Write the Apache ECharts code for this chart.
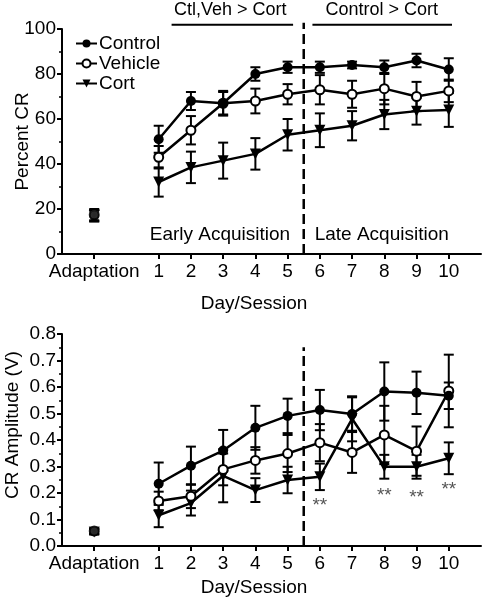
<!DOCTYPE html>
<html>
<head>
<meta charset="utf-8">
<script src="https://cdn.jsdelivr.net/npm/echarts@6/dist/echarts.min.js"></script>
<style>
html,body{margin:0;padding:0;background:#fff;}
#chart{width:483px;height:599px;}
</style>
</head>
<body>
<div id="chart"></div>
<script>
// ---------- DATA ----------
const days = [1, 2, 3, 4, 5, 6, 7, 8, 9, 10];
const adaptationX = -1;
const tickValues = [-1, 1, 2, 3, 4, 5, 6, 7, 8, 9, 10];

// Percent CR (top panel)
const ctlPct = [51, 68, 67, 80, 83, 83, 84, 83, 86, 82];
const ctlPctErr = [6, 4, 5, 3, 2.5, 2.5, 1.5, 3, 3, 5];
const vehPct = [43, 55, 67, 68, 71, 73, 71, 73.5, 70, 72.5];
const vehPctErr = [5, 6.3, 5.5, 5.5, 4.5, 6.5, 6, 7, 6.5, 5];
const cortPct = [32, 38.5, 41.5, 44.5, 53, 55, 57, 62, 63.5, 64];
const cortPctErr = [6.5, 7, 8, 7, 7, 7.5, 6.5, 6.5, 6, 7.5];
const adaptPct = [17, 17.5, 17];
const adaptPctErr = [2.5, 2.5, 2.5];

// CR Amplitude (bottom panel)
const ctlAmp = [0.235, 0.303, 0.36, 0.446, 0.491, 0.513, 0.498, 0.583, 0.578, 0.567];
const ctlAmpErr = [0.08, 0.072, 0.078, 0.083, 0.065, 0.076, 0.063, 0.11, 0.08, 0.05];
const vehAmp = [0.17, 0.188, 0.289, 0.323, 0.349, 0.39, 0.353, 0.419, 0.358, 0.585];
const vehAmpErr = [0.035, 0.045, 0.06, 0.05, 0.07, 0.07, 0.077, 0.11, 0.093, 0.137];
const cortAmp = [0.116, 0.162, 0.265, 0.211, 0.249, 0.261, 0.48, 0.299, 0.299, 0.331];
const cortAmpErr = [0.045, 0.047, 0.1, 0.045, 0.05, 0.05, 0.085, 0.045, 0.045, 0.06];
const adaptAmp = [0.055, 0.057, 0.053];
const adaptAmpErr = [0.01, 0.01, 0.01];

// Annotations
const phaseSplitX = 5.5;
const bracketTexts = ['Ctl,Veh > Cort', 'Control > Cort'];
const bracketFrom = [1.4, 5.77];
const bracketTo = [5.17, 10.1];
const bracketTextX = [3.22, 7.92];
const phaseTexts = ['Early Acquisition', 'Late Acquisition'];
const phaseTextX = [2.9, 7.92];
const starDays = [6, 8, 9, 10];
const starY = [0.15, 0.19, 0.183, 0.213];

// ---------- HELPERS ----------
const FONT = '"Liberation Sans", Arial, sans-serif';
const names = ['Control', 'Vehicle', 'Cort'];
const symbols = ['circle', 'circle', 'triangle'];
const rotates = [0, 0, 180];
const sizes = [10, 9, 11];
const fills = ['#000', '#fff', '#000'];

function errRender(params, api) {
  const x = api.value(0), lo = api.value(1), hi = api.value(2);
  const p1 = api.coord([x, lo]), p2 = api.coord([x, hi]);
  const w = 5;
  const st = { stroke: '#000', lineWidth: 2 };
  return { type: 'group', children: [
    { type: 'line', shape: { x1: p1[0], y1: p1[1], x2: p2[0], y2: p2[1] }, style: st },
    { type: 'line', shape: { x1: p1[0] - w, y1: p1[1], x2: p1[0] + w, y2: p1[1] }, style: st },
    { type: 'line', shape: { x1: p2[0] - w, y1: p2[1], x2: p2[0] + w, y2: p2[1] }, style: st }
  ]};
}

function lineSeries(i, vals, gridIdx) {
  return {
    type: 'line', name: names[i], xAxisIndex: gridIdx, yAxisIndex: gridIdx,
    data: days.map((d, k) => [d, vals[k]]),
    symbol: symbols[i], symbolRotate: rotates[i], symbolSize: sizes[i],
    showAllSymbol: true,
    lineStyle: { color: '#000', width: 2.5 },
    itemStyle: { color: fills[i], borderColor: '#000', borderWidth: i === 1 ? 2 : 0, opacity: 1 },
    z: 5, silent: true
  };
}
function adaptSeries(i, v, gridIdx) {
  return {
    type: 'scatter', name: names[i] + ' adaptation', xAxisIndex: gridIdx, yAxisIndex: gridIdx,
    data: [[adaptationX, v]],
    symbol: symbols[i], symbolRotate: rotates[i], symbolSize: sizes[i],
    itemStyle: { color: fills[i], borderColor: '#000', borderWidth: i === 1 ? 2 : 0 },
    z: 5 + (2 - i) * 0.1, silent: true
  };
}
function errSeries(vals, errs, gridIdx, adaptV, adaptE) {
  const data = days.map((d, k) => [d, vals[k] - errs[k], vals[k] + errs[k]]);
  data.push([adaptationX, adaptV - adaptE, adaptV + adaptE]);
  return {
    type: 'custom', xAxisIndex: gridIdx, yAxisIndex: gridIdx,
    renderItem: errRender, data: data, encode: { x: 0, y: [1, 2] }, z: 3, silent: true
  };
}
function dashSeries(gridIdx, yTop) {
  return {
    type: 'custom', xAxisIndex: gridIdx, yAxisIndex: gridIdx, silent: true, z: 2,
    data: [[phaseSplitX, 0, yTop]], encode: { x: 0, y: [1, 2] },
    renderItem: function (params, api) {
      const a = api.coord([api.value(0), api.value(1)]);
      const b = api.coord([api.value(0), api.value(2)]);
      return { type: 'line', shape: { x1: a[0], y1: a[1], x2: b[0], y2: b[1] },
        style: { stroke: '#000', lineWidth: 2.5, lineDash: [10, 5] } };
    }
  };
}
function textSeries(gridIdx, xs, ys, texts, fontSize, color) {
  return {
    type: 'custom', xAxisIndex: gridIdx, yAxisIndex: gridIdx, silent: true, z: 6,
    data: xs.map((x, k) => [x, ys[k]]), encode: { x: 0, y: 1 },
    renderItem: function (params, api) {
      const p = api.coord([api.value(0), api.value(1)]);
      return { type: 'text', style: { text: texts[params.dataIndex], x: p[0], y: p[1],
        textAlign: 'center', textVerticalAlign: 'middle', fill: color,
        fontSize: fontSize, fontFamily: FONT } };
    }
  };
}
function bracketSeries(gridIdx, yLine) {
  return {
    type: 'custom', xAxisIndex: gridIdx, yAxisIndex: gridIdx, silent: true, z: 6,
    data: bracketFrom.map((x, k) => [x, bracketTo[k], yLine]), encode: { x: [0, 1], y: 2 },
    renderItem: function (params, api) {
      const a = api.coord([api.value(0), api.value(2)]);
      const b = api.coord([api.value(1), api.value(2)]);
      return { type: 'line', shape: { x1: a[0], y1: a[1], x2: b[0], y2: b[1] },
        style: { stroke: '#000', lineWidth: 2 } };
    }
  };
}

function xAxisCfg(gridIdx) {
  return {
    type: 'value', gridIndex: gridIdx, min: -2, max: 11, interval: 1,
    name: 'Day/Session', nameLocation: 'middle', nameGap: gridIdx === 0 ? 40 : 32,
    nameMoveOverlap: false,
    nameTextStyle: { color: '#000', fontSize: 19, fontFamily: FONT, padding: [0, 35, 0, 0] },
    axisLine: { show: true, onZero: false, lineStyle: { color: '#000', width: 2 } },
    axisTick: { show: true, customValues: tickValues, length: 5, inside: false, lineStyle: { color: '#000', width: 2 } },
    axisLabel: { show: true, customValues: tickValues, margin: 8, color: '#000', fontSize: 19, fontFamily: FONT,
      formatter: v => v === -1 ? 'Adaptation' : String(v) },
    splitLine: { show: false }, minorTick: { show: false }
  };
}
function yAxisCfg(gridIdx) {
  const top = gridIdx === 0;
  return {
    type: 'value', gridIndex: gridIdx, min: 0, max: top ? 100 : 0.8, interval: top ? 20 : 0.1,
    name: top ? 'Percent CR' : 'CR Amplitude (V)', nameLocation: 'middle', nameGap: top ? 30 : 40,
    nameMoveOverlap: false,
    nameTextStyle: { color: '#000', fontSize: 19, fontFamily: FONT, padding: top ? [0, 0, 0, 0] : [0, 0, 0, 30] },
    axisLine: { show: true, onZero: false, lineStyle: { color: '#000', width: 2 } },
    axisTick: { show: true, length: 5, lineStyle: { color: '#000', width: 2 } },
    minorTick: { show: true, splitNumber: 2, length: 3, lineStyle: { color: '#000', width: 1.5 } },
    axisLabel: { color: '#000', fontSize: 19, fontFamily: FONT, margin: 6,
      formatter: v => top ? String(Math.round(v)) : v.toFixed(1) },
    splitLine: { show: false }
  };
}

const series = [];
const topVals = [ctlPct, vehPct, cortPct], topErrs = [ctlPctErr, vehPctErr, cortPctErr];
const botVals = [ctlAmp, vehAmp, cortAmp], botErrs = [ctlAmpErr, vehAmpErr, cortAmpErr];
for (let i = 0; i < 3; i++) {
  series.push(errSeries(topVals[i], topErrs[i], 0, adaptPct[i], adaptPctErr[i]));
  series.push(errSeries(botVals[i], botErrs[i], 1, adaptAmp[i], adaptAmpErr[i]));
}
for (let i = 2; i >= 0; i--) {
  series.push(lineSeries(i, topVals[i], 0));
  series.push(lineSeries(i, botVals[i], 1));
  series.push(adaptSeries(i, adaptPct[i], 0));
  series.push(adaptSeries(i, adaptAmp[i], 1));
}
series.push(dashSeries(0, 102.8));
series.push(dashSeries(1, 0.75));
series.push(bracketSeries(0, 101.9));
series.push(textSeries(0, bracketTextX, [108.5, 108.5], bracketTexts, 18, '#000'));
series.push(textSeries(0, phaseTextX, [8.4, 8.4], phaseTexts, 19, '#000'));
series.push(textSeries(1, starDays, starY, starDays.map(() => '**'), 19, '#555'));

const chart = echarts.init(document.getElementById('chart'), null, { renderer: 'canvas' });
chart.setOption({
  animation: false,
  backgroundColor: '#fff',
  textStyle: { fontFamily: FONT },
  grid: [
    { left: 62, right: 2, top: 29, height: 225, containLabel: false, outerBoundsMode: 'none' },
    { left: 62, right: 2, top: 334, height: 212, containLabel: false, outerBoundsMode: 'none' }
  ],
  legend: {
    data: names, orient: 'vertical', left: 70, top: 29, itemGap: 1,
    itemWidth: 21, itemHeight: 10, selectedMode: false,
    textStyle: { color: '#000', fontSize: 19, fontFamily: FONT, padding: [0, 0, 0, -3] }
  },
  xAxis: [xAxisCfg(0), xAxisCfg(1)],
  yAxis: [yAxisCfg(0), yAxisCfg(1)],
  series: series
});
</script>
</body>
</html>
